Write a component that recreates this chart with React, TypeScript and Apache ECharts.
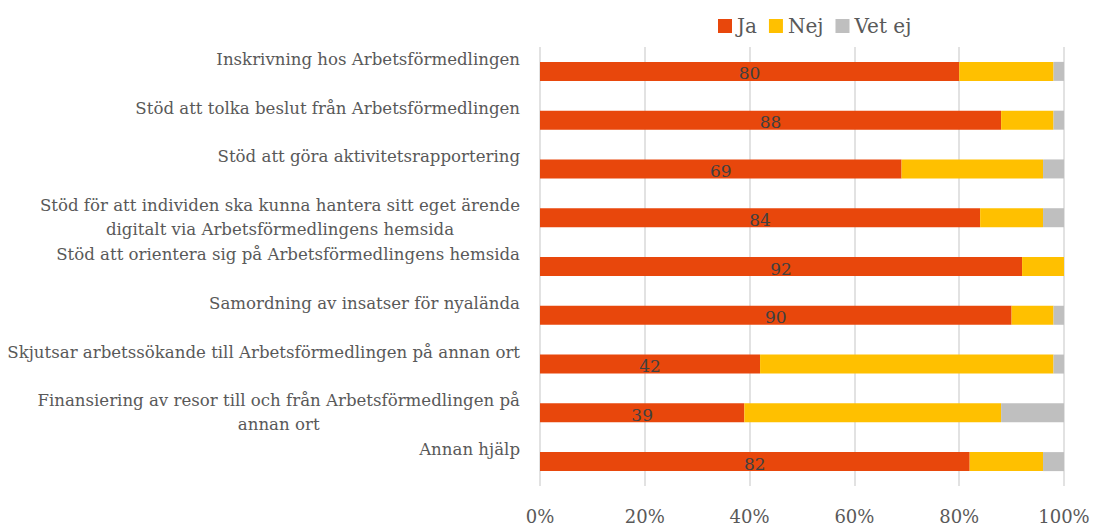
import React, { useEffect, useRef } from "react";
import * as echarts from "echarts";

const categories = [
  "Inskrivning hos Arbetsförmedlingen",
  "Stöd att tolka beslut från Arbetsförmedlingen",
  "Stöd att göra aktivitetsrapportering",
  "Stöd för att individen ska kunna hantera sitt eget ärende\ndigitalt via Arbetsförmedlingens hemsida",
  "Stöd att orientera sig på Arbetsförmedlingens hemsida",
  "Samordning av insatser för nyalända",
  "Skjutsar arbetssökande till Arbetsförmedlingen på annan ort",
  "Finansiering av resor till och från Arbetsförmedlingen på\nannan ort",
  "Annan hjälp",
];
const ja = [80, 88, 69, 84, 92, 90, 42, 39, 82];
const nej = [18, 10, 27, 12, 8, 8, 56, 49, 14];
const vetEj = [2, 2, 4, 4, 0, 2, 2, 12, 4];
const seriesNames = ["Ja", "Nej", "Vet ej"];
const colors = ["#E8470C", "#FFC000", "#BFBFBF"];

const FONT = "DejaVu Serif";

export default function App() {
  const ref = useRef<HTMLDivElement>(null);
  useEffect(() => {
    document.body.style.margin = "0";
    const chart = echarts.init(ref.current!, undefined, { renderer: "svg" });
    const catData = categories.map((c) =>
      c.includes("\n")
        ? { value: c }
        : { value: c, textStyle: { padding: [0, 0, 24, 0] } }
    );
    const mk = (name: string, data: number[], color: string, label: boolean) => ({
      name,
      type: "bar",
      stack: "total",
      data,
      barWidth: 19,
      itemStyle: { color },
      label: label
        ? {
            show: true,
            position: "inside",
            color: "#404040",
            fontSize: 17,
            fontFamily: FONT,
            offset: [0, 2],
          }
        : { show: false },
    });
    chart.setOption({
      animation: false,
      textStyle: { fontFamily: FONT },
      legend: {
        top: 11,
        left: 713,
        itemWidth: 14,
        itemHeight: 14,
        itemGap: 12,
        icon: "rect",
        textStyle: { fontSize: 20, color: "#595959", fontFamily: FONT },
        data: seriesNames,
      },
      grid: { left: 540, right: 31, top: 47, bottom: 38, containLabel: false },
      xAxis: {
        type: "value",
        min: 0,
        max: 100,
        interval: 20,
        axisLine: { show: false },
        axisTick: { show: false },
        splitLine: { lineStyle: { color: "#D9D9D9", width: 1.5 } },
        axisLabel: {
          formatter: "{value}%",
          fontSize: 18,
          color: "#595959",
          fontFamily: FONT,
          margin: 21,
        },
      },
      yAxis: {
        type: "category",
        inverse: true,
        data: catData,
        axisLine: { show: false },
        axisTick: { show: false },
        axisLabel: {
          margin: 20,
          color: "#595959",
          fontSize: 16.6,
          fontFamily: FONT,
          formatter: (v: string) =>
            v
              .split("\n")
              .map((l) => `{c|${l}}`)
              .join("\n"),
          rich: {
            c: {
              align: "center",
              fontSize: 16.6,
              lineHeight: 24,
              color: "#595959",
              fontFamily: FONT,
            },
          },
        },
      },
      series: [
        mk(seriesNames[0], ja, colors[0], true),
        mk(seriesNames[1], nej, colors[1], false),
        mk(seriesNames[2], vetEj, colors[2], false),
      ],
    });
    return () => chart.dispose();
  }, []);
  return <div ref={ref} style={{ width: 1095, height: 525 }} />;
}
